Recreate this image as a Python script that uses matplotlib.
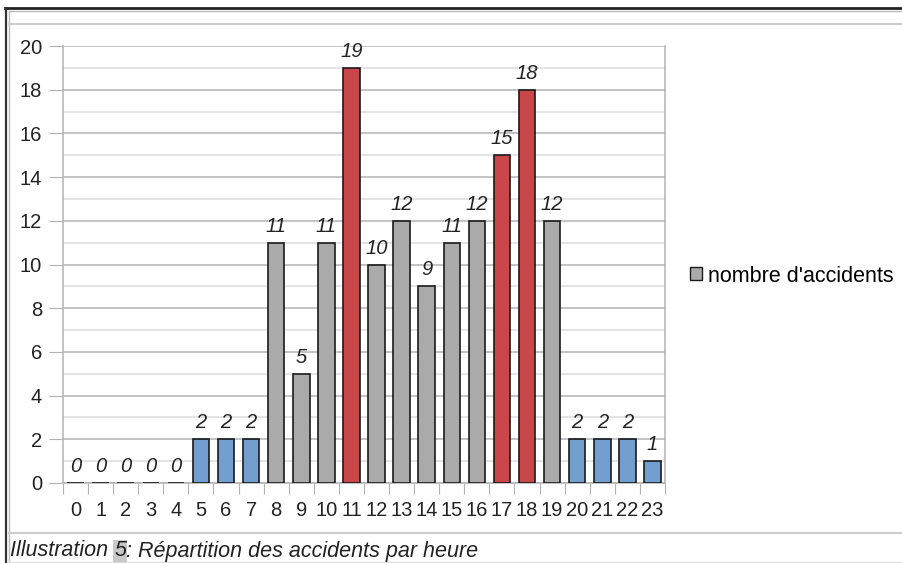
import matplotlib
matplotlib.use("Agg")
import matplotlib.pyplot as plt
from matplotlib.lines import Line2D
from matplotlib.patches import Patch

hours = list(range(24))
accidents = [0, 0, 0, 0, 0, 2, 2, 2, 11, 5, 11, 19, 10, 12, 9, 11, 12, 15, 18, 12, 2, 2, 2, 1]
series_name = "nombre d'accidents"
caption_pre = "Illustration "
caption_num = "5"
caption_post = ": Répartition des accidents par heure"

BLUE = "#729fcf"
GRAY = "#aaaaaa"
RED = "#c9474a"

def bar_color(v):
    if v <= 2:
        return BLUE
    if v >= 15:
        return RED
    return GRAY

plt.rcParams['font.family'] = ['Liberation Sans', 'DejaVu Sans']

W, H = 903, 563
fig = plt.figure(figsize=(W / 100, H / 100), dpi=100)

def fx(x):
    return x / W

def fy(y):
    return 1 - y / H

FS = 14.5
FS2 = 15.5

ax = fig.add_axes([fx(63), fy(483), fx(665) - fx(63), fy(46) - fy(483)])

colors = [bar_color(v) for v in accidents]
ax.bar(hours, accidents, width=0.66, color=colors, edgecolor="#1a1a1a", linewidth=1.2, zorder=3)

for x, v in zip(hours, accidents):
    ax.annotate(str(v), (x, v), xytext=(0, 5), textcoords="offset points",
                ha="center", va="bottom", fontsize=FS, style="italic", color="#222222", zorder=4)

ax.set_xlim(-0.5, 23.5)
ax.set_ylim(0, 20)

ax.set_yticks(range(0, 21, 2))
ax.set_yticks(range(1, 20, 2), minor=True)
ax.tick_params(axis="y", which="major", length=10, color="#b3b3b3", labelsize=FS, pad=5, labelcolor="#222222")
ax.tick_params(axis="y", which="minor", length=0)
ax.grid(axis="y", which="major", color="#b3b3b3", linewidth=1.1, zorder=0)
ax.grid(axis="y", which="minor", color="#dddddd", linewidth=1.1, zorder=0)

ax.set_xticks([h - 0.5 for h in hours] + [23.5])
ax.set_xticklabels([])
ax.set_xticks(hours, minor=True)
ax.set_xticklabels([str(h) for h in hours], minor=True)
ax.tick_params(axis="x", which="major", length=8, color="#b3b3b3")
ax.tick_params(axis="x", which="minor", length=0, labelsize=FS, pad=13, labelcolor="#222222")

ax.spines["top"].set_visible(False)
for s in ["left", "right", "bottom"]:
    ax.spines[s].set_color("#b3b3b3")
    ax.spines[s].set_linewidth(1.1)
ax.spines["left"].set_bounds(0, 20)
ax.spines["right"].set_bounds(0, 20)

handle = Patch(facecolor=GRAY, edgecolor="#1a1a1a", linewidth=1.0)
fig.legend([handle], [series_name], loc="center left", bbox_to_anchor=(fx(690), fy(276)),
           frameon=False, handlelength=0.55, handleheight=0.55, handletextpad=0.3,
           borderpad=0, borderaxespad=0, fontsize=FS2)

def hline(y, x0, x1, color, lw):
    fig.add_artist(Line2D([fx(x0), fx(x1)], [fy(y), fy(y)], color=color, linewidth=lw))

def vline(x, y0, y1, color, lw):
    fig.add_artist(Line2D([fx(x), fx(x)], [fy(y0), fy(y1)], color=color, linewidth=lw))

hline(8, 5, 903, "#222222", 2.0)
vline(5.5, 8, 563, "#333333", 1.6)
hline(11, 9, 903, "#bbbbbb", 1.0)
vline(9, 11, 563, "#bbbbbb", 1.0)
hline(24, 9, 903, "#cccccc", 1.5)
hline(533, 9, 903, "#cccccc", 1.5)
hline(562, 9, 903, "#dddddd", 1.0)

t1 = fig.text(fx(10), fy(551), caption_pre, ha="left", va="center", fontsize=FS2, style="italic", color="#222222")
a2 = fig.add_artist(plt.Annotation(caption_num, xy=(1, 0), xycoords=t1, va="bottom", ha="left",
                                   fontsize=FS2, style="italic", color="#222222",
                                   bbox=dict(facecolor="#c8c8c8", edgecolor="none", pad=0.5)))
fig.add_artist(plt.Annotation(caption_post, xy=(1, 0), xycoords=a2, va="bottom", ha="left",
                              fontsize=FS2, style="italic", color="#222222"))

fig.savefig("out.png", dpi=100)
